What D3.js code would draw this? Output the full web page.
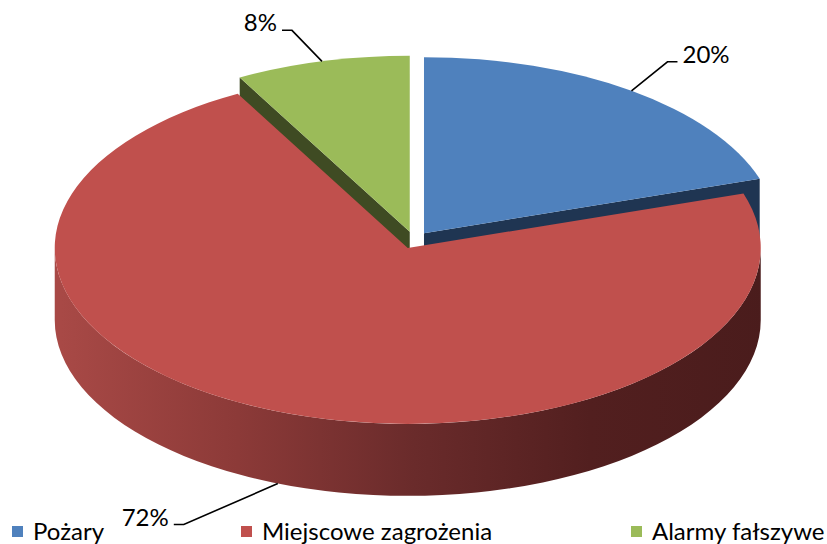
<!DOCTYPE html>
<html>
<head>
<meta charset="utf-8">
<script src="https://cdn.jsdelivr.net/npm/d3@7"></script>
<style>
  body { margin: 0; background: #fff; }
  svg { display: block; }
</style>
</head>
<body>
<div class="canvas"></div>
<script>
// data
const categories = ['Pożary', 'Miejscowe zagrożenia', 'Alarmy fałszywe'];
const values = [20, 72, 8];
const labels = ['20%', '72%', '8%'];

// colours
const topColors = ['#4f81bd', '#c0504d', '#9bbb59'];
const cutColors = ['#1f3552', '#5a2322', '#3f4b23'];

const W = 827, H = 544;
const cx = 414, cy = 240;     // pie centre before explode
const rx = 353, ry = 176;     // top ellipse
const depth = 72;
const explode = 17;
const k = ry / rx;

// label leader elbows (offsets from rim anchor)
const elbows = [[36, -29], [-94, 41], [-30, -31]];

const svg = d3.select('.canvas').append('svg')
    .attr('width', W)
    .attr('height', H);

const defs = svg.append('defs');
const grad = defs.append('linearGradient')
    .attr('id', 'redSide')
    .attr('gradientUnits', 'userSpaceOnUse')
    .attr('x1', cx - rx).attr('y1', 0)
    .attr('x2', cx + rx).attr('y2', 0);
[[0, '#a84946'], [0.25, '#8c3a38'], [0.5, '#6a2b2b'], [0.75, '#521f1f'], [1, '#4a1c1c']]
    .forEach(s => grad.append('stop').attr('offset', s[0]).attr('stop-color', s[1]));

const color = d3.scaleOrdinal().domain(categories).range(topColors);
const cutColor = d3.scaleOrdinal().domain(categories).range(cutColors);

const pie = d3.pie().sort(null).value(d => d.value);
const arcs = pie(categories.map((c, i) => ({ name: c, value: values[i], label: labels[i] })));

function pt(c, a, r, dz) {
  return [c[0] + r * Math.sin(a), c[1] - r * k * Math.cos(a) + (dz || 0)];
}

arcs.forEach(d => {
  const m = (d.startAngle + d.endAngle) / 2;
  d.mid = m;
  d.c = [cx + explode * Math.sin(m), cy - explode * k * Math.cos(m)];
});

// back slices first
const order = arcs.slice().sort((a, b) => a.c[1] - b.c[1]);

const g = svg.append('g');

order.forEach(d => {
  const a0 = d.startAngle, a1 = d.endAngle, c = d.c;
  const slice = g.append('g');

  // cut faces
  [[a0, a0 - Math.PI / 2], [a1, a1 + Math.PI / 2]].forEach(([a, n]) => {
    if (Math.cos(n) < -1e-6) {
      const p = pt(c, a, rx);
      const path = d3.path();
      path.moveTo(c[0], c[1]);
      path.lineTo(p[0], p[1]);
      path.lineTo(p[0], p[1] + depth);
      path.lineTo(c[0], c[1] + depth);
      path.closePath();
      slice.append('path')
          .attr('d', path.toString())
          .attr('fill', cutColor(d.data.name));
    }
  });

  // outer side (front part only)
  const b0 = Math.max(a0, Math.PI / 2), b1 = Math.min(a1, 3 * Math.PI / 2);
  if (b1 > b0) {
    const p0 = pt(c, b0, rx), p1 = pt(c, b1, rx);
    const s = `M${p0[0]},${p0[1]} A${rx},${ry} 0 0 1 ${p1[0]},${p1[1]}` +
              ` L${p1[0]},${p1[1] + depth} A${rx},${ry} 0 0 0 ${p0[0]},${p0[1] + depth} Z`;
    slice.append('path')
        .attr('d', s)
        .attr('fill', d.index === 1 ? 'url(#redSide)' : cutColor(d.data.name));
  }

  // top face
  const q0 = pt(c, a0, rx), q1 = pt(c, a1, rx);
  const large = (a1 - a0) > Math.PI ? 1 : 0;
  slice.append('path')
      .attr('d', `M${c[0]},${c[1]} L${q0[0]},${q0[1]} A${rx},${ry} 0 ${large} 1 ${q1[0]},${q1[1]} Z`)
      .attr('fill', color(d.data.name));
});

// labels with leader lines
const labG = svg.append('g');
arcs.forEach((d, i) => {
  const front = Math.cos(d.mid) < 0;
  const p = pt(d.c, d.mid, rx, front ? depth : 0);
  const e = [p[0] + elbows[i][0], p[1] + elbows[i][1]];
  const dir = elbows[i][0] > 0 ? 1 : -1;
  const end = [e[0] + dir * 10, e[1]];
  labG.append('polyline')
      .attr('points', [p, e, end].map(q => q.join(',')).join(' '))
      .attr('fill', 'none')
      .attr('stroke', '#000')
      .attr('stroke-width', 1.6);
  labG.append('text')
      .attr('x', end[0] + dir * 5)
      .attr('y', end[1] + 1)
      .attr('text-anchor', dir > 0 ? 'start' : 'end')
      .attr('font-family', 'Lato, "Open Sans", sans-serif')
      .attr('font-size', 24)
      .attr('fill', '#000')
      .text(d.data.label);
});

// legend
const legendX = [12, 241, 631];
const legend = svg.append('g');
categories.forEach((c, i) => {
  legend.append('rect')
      .attr('x', legendX[i])
      .attr('y', 526)
      .attr('width', 11)
      .attr('height', 11)
      .attr('fill', color(c));
  legend.append('text')
      .attr('x', legendX[i] + 21)
      .attr('y', 540)
      .attr('font-family', 'Lato, "Open Sans", sans-serif')
      .attr('font-size', 24)
      .attr('fill', '#000')
      .text(c);
});
</script>
</body>
</html>
